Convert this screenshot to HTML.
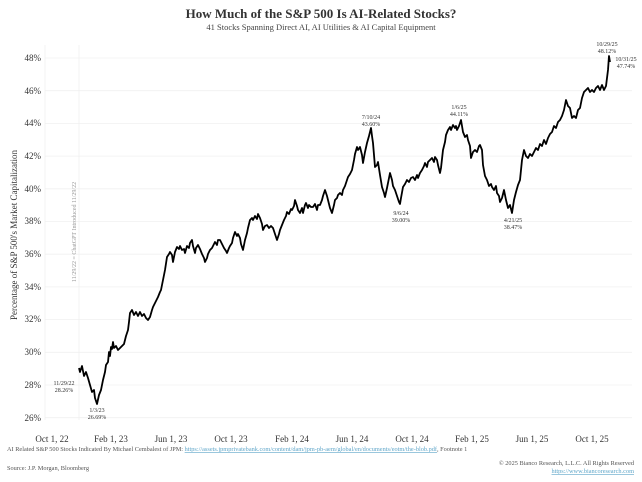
<!DOCTYPE html>
<html><head><meta charset="utf-8"><style>
body{margin:0;background:#fff;}
svg{display:block;font-family:"Liberation Serif",serif;}
</style></head><body>
<svg width="642" height="482" viewBox="0 0 642 482" xmlns="http://www.w3.org/2000/svg">
<rect width="642" height="482" fill="#fff"/>
<text x="321" y="18" text-anchor="middle" font-size="13" font-weight="bold" fill="#333">How Much of the S&amp;P 500 Is AI-Related Stocks?</text>
<text x="321" y="30" text-anchor="middle" font-size="8.5" fill="#444">41 Stocks Spanning Direct AI, AI Utilities &amp; AI Capital Equipment</text>
<g stroke="#f0f0f0" stroke-width="0.8">
<line x1="45" x2="632" y1="58" y2="58"/><line x1="45" x2="632" y1="90.7" y2="90.7"/><line x1="45" x2="632" y1="123.4" y2="123.4"/><line x1="45" x2="632" y1="156.1" y2="156.1"/><line x1="45" x2="632" y1="188.8" y2="188.8"/><line x1="45" x2="632" y1="221.5" y2="221.5"/><line x1="45" x2="632" y1="254.2" y2="254.2"/><line x1="45" x2="632" y1="286.9" y2="286.9"/><line x1="45" x2="632" y1="319.6" y2="319.6"/><line x1="45" x2="632" y1="352.3" y2="352.3"/><line x1="45" x2="632" y1="385" y2="385"/><line x1="45" x2="632" y1="417.7" y2="417.7"/>
<line x1="79" x2="79" y1="45" y2="420"/><line x1="45" x2="45" y1="45" y2="420"/>
</g>
<g font-size="9" fill="#333" text-anchor="end">
<text x="41" y="61">48%</text><text x="41" y="94">46%</text><text x="41" y="126">44%</text><text x="41" y="159">42%</text><text x="41" y="192">40%</text><text x="41" y="224">38%</text><text x="41" y="257">36%</text><text x="41" y="290">34%</text><text x="41" y="322">32%</text><text x="41" y="355">30%</text><text x="41" y="388">28%</text><text x="41" y="421">26%</text>
</g>
<text transform="translate(17,235) rotate(-90)" text-anchor="middle" font-size="9" fill="#333">Percentage of S&amp;P 500's Market Capitalization</text>
<text transform="translate(76,232) rotate(-90)" text-anchor="middle" font-size="6" fill="#999">11/29/22 = ChatGPT Introduced 11/29/22</text>
<g font-size="9" fill="#333" text-anchor="middle">
<text x="52" y="442">Oct 1, 22</text><text x="111" y="442">Feb 1, 23</text><text x="171" y="442">Jun 1, 23</text><text x="231" y="442">Oct 1, 23</text><text x="292" y="442">Feb 1, 24</text><text x="352" y="442">Jun 1, 24</text><text x="412" y="442">Oct 1, 24</text><text x="472" y="442">Feb 1, 25</text><text x="532" y="442">Jun 1, 25</text><text x="592" y="442">Oct 1, 25</text>
</g>
<polyline fill="none" stroke="#000" stroke-width="1.8" stroke-linejoin="round" points="79,368 80,372 82,366 84,376 86,372 88,378 90,385 92,392 94,390 95,398 97,404 99,395 101,390 103,380 105,372 106,365 108,362 109,352 110,356 111,347 112,349 113,342 114,348 116,346 118,350 120,348 122,346 124,344 126,336 128,330 129,322 130,313 132,310 134,315 136,312 138,316 140,312 142,316 144,314 146,318 148,320 150,317 152,310 153,307 155,303 158,297 160,292 161,290 163,280 165,270 167,257 169,254 170,252 172,255 173,262 175,252 177,247 179,249 180,246 182,250 184,249 185,253 187,246 189,248 190,243 192,240 193,246 195,253 196,248 198,245 200,249 202,254 204,258 205,262 207,258 208,254 210,250 212,248 214,244 215,242 217,245 218,240 220,240 222,244 224,248 226,251 227,253 229,248 230,246 232,243 233,238 235,232 237,236 238,234 240,238 241,244 243,250 245,240 247,233 248,228 250,220 252,218 253,220 255,216 257,219 258,214 260,218 262,224 263,230 265,226 267,225 269,228 271,226 273,228 275,234 277,240 279,234 280,230 282,225 284,220 286,216 287,212 289,214 291,209 292,210 294,206 295,200 297,206 298,210 300,213 302,208 303,213 305,205 306,203 308,208 309,205 311,207 313,207 315,204 317,210 318,205 320,205 322,200 323,196 325,190 327,196 328,200 330,208 332,213 334,205 335,200 337,198 338,195 340,193 342,195 343,190 345,186 346,183 348,177 350,174 352,170 354,160 355,154 357,147 358,150 360,147 362,155 363,163 365,152 367,143 369,136 371,128 372,136 373,143 374,155 375,167 377,165 378,162 380,175 382,187 384,193 385,197 387,188 389,178 390,173 392,180 393,186 395,190 397,196 399,202 400,204 401,198 403,187 405,184 407,180 409,182 411,178 413,177 415,180 417,175 418,178 420,173 422,170 424,166 425,163 427,167 428,162 430,160 432,158 434,162 435,157 437,160 438,165 440,173 441,168 443,150 445,142 446,135 448,130 450,127 451,130 453,125 455,128 456,126 457,130 459,126 461,120 462,126 463,132 465,137 467,135 468,140 470,146 471,158 473,152 475,150 477,152 479,146 480,145 482,150 483,165 485,176 487,180 489,186 491,184 492,187 494,190 496,186 497,193 499,196 500,202 502,198 504,190 506,200 508,208 510,205 512,213 514,200 516,192 518,185 520,180 522,160 524,150 526,156 528,158 530,154 532,156 534,152 536,148 538,150 540,144 542,146 544,140 546,144 548,138 550,134 552,132 554,126 556,128 558,122 560,120 562,116 564,110 566,100 568,106 570,108 572,118 574,116 576,118 578,110 580,108 582,98 584,92 586,90 588,88 590,92 592,90 594,92 596,88 598,86 600,90 602,85 604,90 606,86 608,70 609,56 610,62"/>
<g font-size="6" fill="#333" text-anchor="middle">
<text x="64" y="385">11/29/22</text><text x="64" y="392">28.26%</text>
<text x="97" y="412">1/3/23</text><text x="97" y="419">26.69%</text>
<text x="371" y="119">7/10/24</text><text x="371" y="126">43.60%</text>
<text x="401" y="215">9/6/24</text><text x="401" y="222">39.00%</text>
<text x="459" y="109">1/6/25</text><text x="459" y="116">44.11%</text>
<text x="513" y="222">4/21/25</text><text x="513" y="229">38.47%</text>
<text x="607" y="46">10/29/25</text><text x="607" y="53">48.12%</text>
<text x="626" y="61">10/31/25</text><text x="626" y="68">47.74%</text>
</g>
<text x="7" y="451" font-size="6.3" fill="#555">AI Related S&amp;P 500 Stocks Indicated By Michael Cembalest of JPM: <tspan fill="#5fa6c9" text-decoration="underline">https://assets.jpmprivatebank.com/content/dam/jpm-pb-aem/global/en/documents/eotm/the-blob.pdf</tspan>, Footnote 1</text>
<text x="7" y="470" font-size="6.3" fill="#555">Source: J.P. Morgan, Bloomberg</text>
<text x="634" y="465" text-anchor="end" font-size="6.3" fill="#555">© 2025 Bianco Research, L.L.C. All Rights Reserved</text>
<text x="634" y="473" text-anchor="end" font-size="6.3" fill="#5fa6c9" text-decoration="underline">https://www.biancoresearch.com</text>
</svg>
</body></html>
